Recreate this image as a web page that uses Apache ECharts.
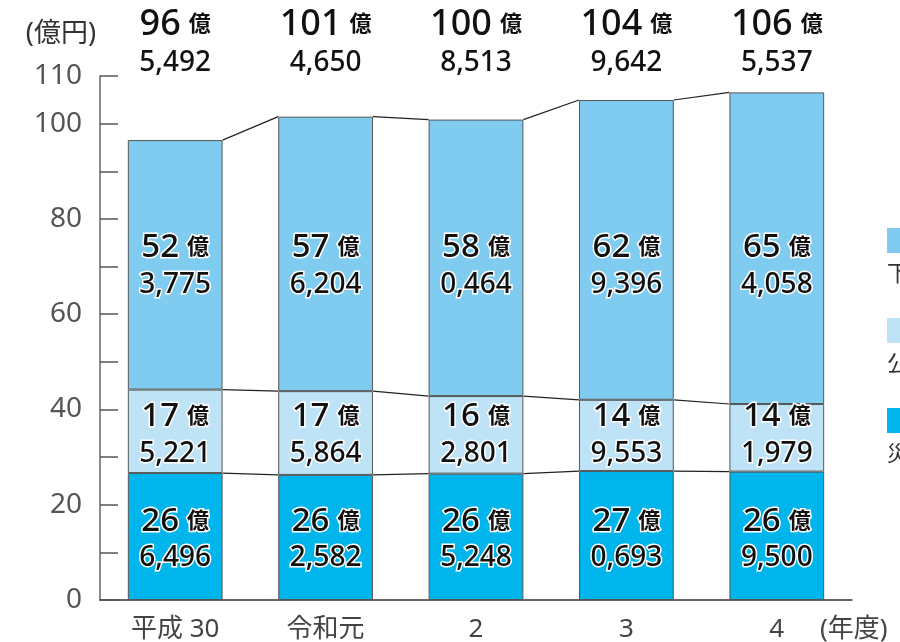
<!DOCTYPE html>
<html>
<head>
<meta charset="utf-8">
<script src="https://cdn.jsdelivr.net/npm/echarts@6/dist/echarts.min.js"></script>
<style>
    html, body { margin: 0; padding: 0; background: #fff; }
    #chart { width: 900px; height: 642px; }
</style>
</head>
<body>
<div id="chart"></div>
<script>
    // 年度
    const categories = ['平成 30', '令和元', '2', '3', '4'];
    // 凡例 (右端で切れている)
    const seriesNames = ['災害復旧事業費', '公共下水道事業費', '下水道維持管理費'];
    // 金額 (万円)
    const bottomValues = [266496, 262582, 265248, 270693, 269500];
    const middleValues = [175221, 175864, 162801, 149553, 141979];
    const topValues = [523775, 576204, 580464, 629396, 654058];
    // 目盛りラベル
    const yLabels = [0, 20, 40, 60, 80, 100, 110];

    const colors = ['#00b5eb', '#bee3f7', '#7fccf0'];
    const BAR_RATIO = 0.63;
    const FONT = "'Noto Sans', 'Noto Sans CJK JP', sans-serif";

    const cumMiddle = bottomValues.map((v, i) => v + middleValues[i]);
    const totals = cumMiddle.map((v, i) => v + topValues[i]);

    function split(v) {
        const oku = Math.floor(v / 10000);
        const man = String(v % 10000).padStart(4, '0');
        return [oku, man.slice(0, 1) + ',' + man.slice(1)];
    }

    function barSeries(idx, values) {
        return {
            name: seriesNames[idx],
            type: 'bar',
            stack: 'total',
            barWidth: (BAR_RATIO * 100) + '%',
            z: 2,
            itemStyle: {
                color: colors[idx],
                borderColor: '#555',
                borderWidth: 1
            },
            data: values.map(v => v / 10000)
        };
    }

    function connector(cum) {
        return {
            type: 'custom',
            silent: true,
            z: 1,
            encode: {x: 0, y: [1, 2]},
            data: cum.slice(0, -1).map((v, i) => [i, v / 10000, cum[i + 1] / 10000]),
            renderItem(params, api) {
                const i = api.value(0);
                const a = api.coord([i, api.value(1)]);
                const b = api.coord([i + 1, api.value(2)]);
                const hw = api.size([1, 0])[0] * BAR_RATIO / 2;
                return {
                    type: 'line',
                    shape: {x1: a[0] + hw, y1: a[1], x2: b[0] - hw, y2: b[1]},
                    style: {stroke: '#222', lineWidth: 1.2}
                };
            }
        };
    }

    // ラベルは固定の高さに置く
    function labelSeries(values, yPos, big, halo) {
        const tok = (size, weight) => ({
            fontSize: size,
            fontWeight: weight,
            fontFamily: FONT,
            fill: '#111',
            stroke: halo ? '#fff' : null,
            lineWidth: halo ? 3 : 0,
            lineHeight: big ? 38 : 37
        });
        return {
            type: 'custom',
            silent: true,
            z: 5,
            encode: {x: 0, y: 1},
            data: values.map((v, i) => [i, yPos, v]),
            renderItem(params, api) {
                const p = api.coord([api.value(0), api.value(1)]);
                const parts = split(api.value(2));
                return {
                    type: 'text',
                    x: p[0],
                    y: p[1],
                    style: {
                        text: '{n|' + parts[0] + '}{u|億}\n{d|' + parts[1] + '}',
                        align: 'center',
                        verticalAlign: 'middle',
                        fill: '#111',
                        rich: {
                            n: tok(big ? 36 : 33, 500),
                            u: Object.assign(tok(22, 'bold'), {padding: [0, 0, 0, 8]}),
                            d: tok(28, 500)
                        }
                    }
                };
            }
        };
    }

    const legendGraphics = [];
    [2, 1, 0].forEach((idx, k) => {
        legendGraphics.push({
            type: 'rect',
            left: 887,
            top: 228 + k * 90,
            shape: {width: 25, height: 25},
            style: {fill: colors[idx]}
        });
        legendGraphics.push({
            type: 'text',
            left: 887,
            top: 264 + k * 90,
            style: {text: seriesNames[idx], fontSize: 22, fontFamily: FONT, fill: '#333'}
        });
    });

    const chart = echarts.init(document.getElementById('chart'));
    chart.setOption({
        backgroundColor: '#fff',
        animation: false,
        grid: {
            left: 100,
            right: 48,
            top: 76,
            bottom: 42,
            containLabel: false,
            outerBoundsMode: 'none'
        },
        xAxis: {
            type: 'category',
            data: categories,
            name: '(年度)',
            nameLocation: 'end',
            nameGap: -32,
            nameTextStyle: {
                fontSize: 26,
                fontFamily: FONT,
                color: '#444',
                verticalAlign: 'top',
                padding: [17, 0, 0, 0]
            },
            axisLine: {lineStyle: {color: '#333', width: 1.5}},
            axisTick: {inside: true, length: 12, lineStyle: {color: '#555', width: 1.5}},
            axisLabel: {
                margin: 17,
                fontSize: 26,
                fontFamily: FONT,
                color: '#444'
            }
        },
        yAxis: {
            type: 'value',
            min: 0,
            max: 110,
            interval: 10,
            name: '(億円)',
            nameLocation: 'end',
            nameGap: 28,
            nameTextStyle: {
                fontSize: 27,
                fontFamily: FONT,
                color: '#333',
                align: 'right',
                padding: [0, 4, 0, 0]
            },
            axisLine: {show: true, lineStyle: {color: '#666', width: 1.5}},
            axisTick: {show: true, inside: true, length: 18, lineStyle: {color: '#555', width: 1.5}},
            splitLine: {show: false},
            axisLabel: {
                margin: 18,
                fontSize: 28,
                fontFamily: FONT,
                color: '#555',
                formatter: v => yLabels.indexOf(v) >= 0 ? String(v) : ''
            }
        },
        graphic: legendGraphics,
        series: [
            barSeries(0, bottomValues),
            barSeries(1, middleValues),
            barSeries(2, topValues),
            connector(bottomValues),
            connector(cumMiddle),
            connector(totals),
            labelSeries(bottomValues, 12.6, false, true),
            labelSeries(middleValues, 34.6, false, true),
            labelSeries(topValues, 70.1, false, true),
            labelSeries(totals, 116.7, true, false)
        ]
    });
</script>
</body>
</html>
